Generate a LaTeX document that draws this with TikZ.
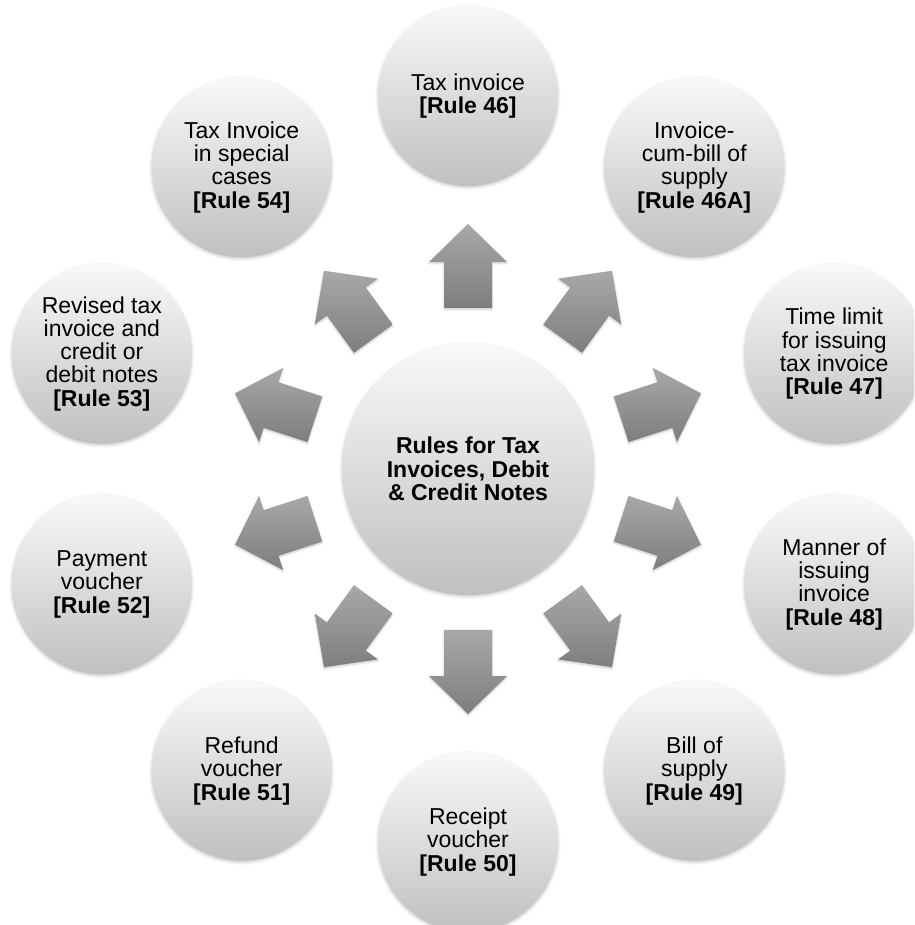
\documentclass[tikz,border=0pt]{standalone}
\usepackage{fontspec}
\setmainfont{Liberation Sans}
\usetikzlibrary{calc,shadows.blur}
\definecolor{ctop}{HTML}{F9F9F9}
\definecolor{cbot}{HTML}{C0C0C0}
\definecolor{atop}{HTML}{A8A8A8}
\definecolor{abot}{HTML}{7E7E7E}
\begin{document}
\begin{tikzpicture}[x=1pt,y=1pt,
  bubble/.style={circle, minimum size=180pt, inner sep=0pt, top color=ctop, bottom color=cbot,
    align=center, text=black, font=\fontsize{23}{23.3}\selectfont,
    blur shadow={shadow xshift=0pt, shadow yshift=-1.5pt, shadow blur radius=3pt, shadow opacity=22}},
  hub/.style={bubble, minimum size=252pt, font=\bfseries\fontsize{23}{23.5}\selectfont},
  blockarrow/.style={top color=atop, bottom color=abot,
    blur shadow={shadow xshift=0pt, shadow yshift=-1.5pt, shadow blur radius=2pt, shadow opacity=20}}]
\useasboundingbox (0,0) rectangle (914,925);
\clip (0,0) rectangle (914,925);

\node[hub] (hub) at (468,456) {Rules for Tax\\Invoices, Debit\\\& Credit Notes};

\foreach \a in {90,54,18,-18,-54,-90,-126,-162,162,126} {
  \path[blockarrow]
    ($(hub.center)+(\a:161pt)+(\a+90:24pt)$) --
    ($(hub.center)+(\a:207pt)+(\a+90:24pt)$) --
    ($(hub.center)+(\a:207pt)+(\a+90:39pt)$) --
    ($(hub.center)+(\a:245pt)$) --
    ($(hub.center)+(\a:207pt)+(\a-90:39pt)$) --
    ($(hub.center)+(\a:207pt)+(\a-90:24pt)$) --
    ($(hub.center)+(\a:161pt)+(\a-90:24pt)$) -- cycle;
}

\node[bubble] (r46)  at ($(hub.center)+(90:385pt and 373pt)$)   {Tax invoice\\\textbf{[Rule 46]}};
\node[bubble] (r46a) at ($(hub.center)+(54:385pt and 373pt)$)   {Invoice-\\cum-bill of\\supply\\\textbf{[Rule 46A]}};
\node[bubble] (r47)  at ($(hub.center)+(18:385pt and 373pt)$)   {Time limit\\for issuing\\tax invoice\\\textbf{[Rule 47]}};
\node[bubble] (r48)  at ($(hub.center)+(-18:385pt and 373pt)$)  {Manner of\\issuing\\invoice\\\textbf{[Rule 48]}};
\node[bubble] (r49)  at ($(hub.center)+(-54:385pt and 373pt)$)  {Bill of\\supply\\\textbf{[Rule 49]}};
\node[bubble] (r50)  at ($(hub.center)+(-90:385pt and 373pt)$)  {Receipt\\voucher\\\textbf{[Rule 50]}};
\node[bubble] (r51)  at ($(hub.center)+(-126:385pt and 373pt)$) {Refund\\voucher\\\textbf{[Rule 51]}};
\node[bubble] (r52)  at ($(hub.center)+(-162:385pt and 373pt)$) {Payment\\voucher\\\textbf{[Rule 52]}};
\node[bubble] (r53)  at ($(hub.center)+(162:385pt and 373pt)$)  {Revised tax\\invoice and\\credit or\\debit notes\\\textbf{[Rule 53]}};
\node[bubble] (r54)  at ($(hub.center)+(126:385pt and 373pt)$)  {Tax Invoice\\in special\\cases\\\textbf{[Rule 54]}};
\end{tikzpicture}
\end{document}
